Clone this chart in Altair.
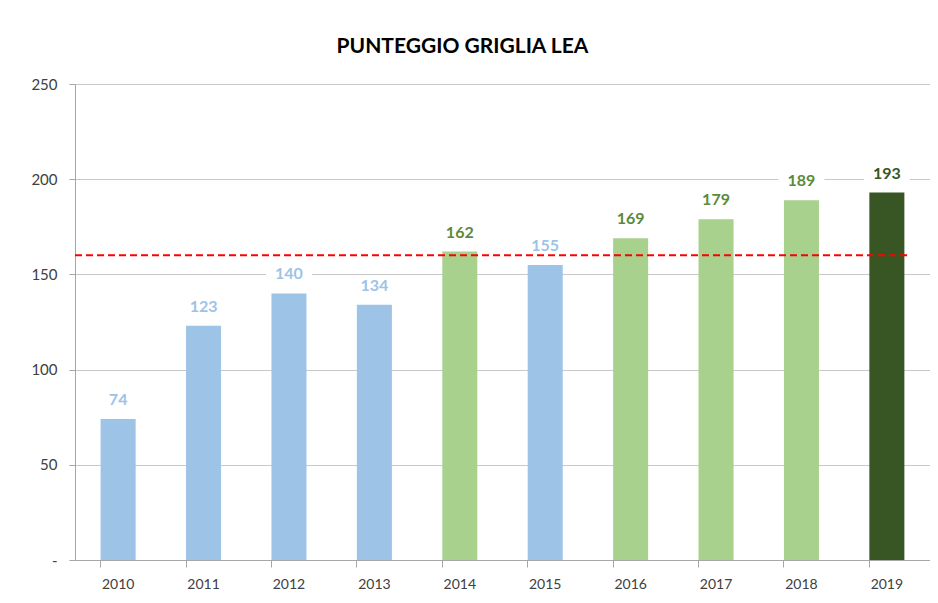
import altair as alt
import pandas as pd

years = ["2010", "2011", "2012", "2013", "2014", "2015", "2016", "2017", "2018", "2019"]
scores = [74, 123, 140, 134, 162, 155, 169, 179, 189, 193]
groups = ["sotto", "sotto", "sotto", "sotto", "sopra", "sotto", "sopra", "sopra", "sopra", "ultimo"]
threshold = 160

group_domain = ["sotto", "sopra", "ultimo"]
bar_colors = ["#9dc3e6", "#a9d18e", "#375623"]
label_colors = ["#9dc3e6", "#5b8a3a", "#375623"]

df = pd.DataFrame({"anno": years, "punteggio": scores, "gruppo": groups})
thr = pd.DataFrame({"soglia": [threshold]})

yscale = alt.Scale(domain=[0, 250], nice=False)

x = alt.X("anno:N", title=None, sort=years,
          scale=alt.Scale(paddingInner=0.59, paddingOuter=0.3),
          axis=alt.Axis(labelAngle=0, labelFontSize=14, labelColor="#404040",
                        labelFont="Lato", labelPadding=10,
                        domainColor="#a6a6a6", tickColor="#a6a6a6",
                        ticks=True, tickSize=7, bandPosition=0, grid=False))
y = alt.Y("punteggio:Q", title=None, scale=yscale,
          axis=alt.Axis(values=[0, 50, 100, 150, 200, 250],
                        labelExpr="datum.value == 0 ? '-' : datum.label",
                        labelFontSize=15, labelColor="#404040", labelFont="Lato",
                        labelPadding=12, tickSize=6, tickColor="#a6a6a6",
                        domainColor="#a6a6a6", gridColor="#c8c8c8"))

base = alt.Chart(df)

bars = base.mark_bar().encode(
    x=x, y=y,
    color=alt.Color("gruppo:N", scale=alt.Scale(domain=group_domain, range=bar_colors), legend=None),
)

rule = alt.Chart(thr).mark_rule(color="#ff0000", strokeWidth=2, strokeDash=[7, 4]).encode(
    y=alt.Y("soglia:Q", scale=yscale),
    x=alt.value(0), x2=alt.value(833),
)

boxes = base.transform_calculate(
    lo="datum.punteggio + 5", hi="datum.punteggio + 15"
).mark_bar(size=46, color="white").encode(
    x=alt.X("anno:N", sort=years),
    y=alt.Y("lo:Q", scale=yscale), y2="hi:Q",
)

labels = base.mark_text(dy=-19, fontSize=16, fontWeight="bold", font="Lato").encode(
    x=alt.X("anno:N", sort=years), y="punteggio:Q", text="punteggio:Q",
    color=alt.Color("gruppo:N", scale=alt.Scale(domain=group_domain, range=label_colors), legend=None),
)

chart = alt.layer(bars, boxes, rule, labels).resolve_scale(color="independent").properties(
    width=855, height=476,
    title=alt.TitleParams("PUNTEGGIO GRIGLIA LEA", fontSize=21, fontWeight="bold",
                          font="Lato", color="#000000", anchor="middle", offset=20, dx=-40),
    autosize=alt.AutoSizeParams(type="none"),
    padding={"left": 67, "top": 76, "right": 0, "bottom": 30},
).configure_view(stroke=None)

chart.save("out.html", embed_options={"renderer": "svg", "actions": False})
